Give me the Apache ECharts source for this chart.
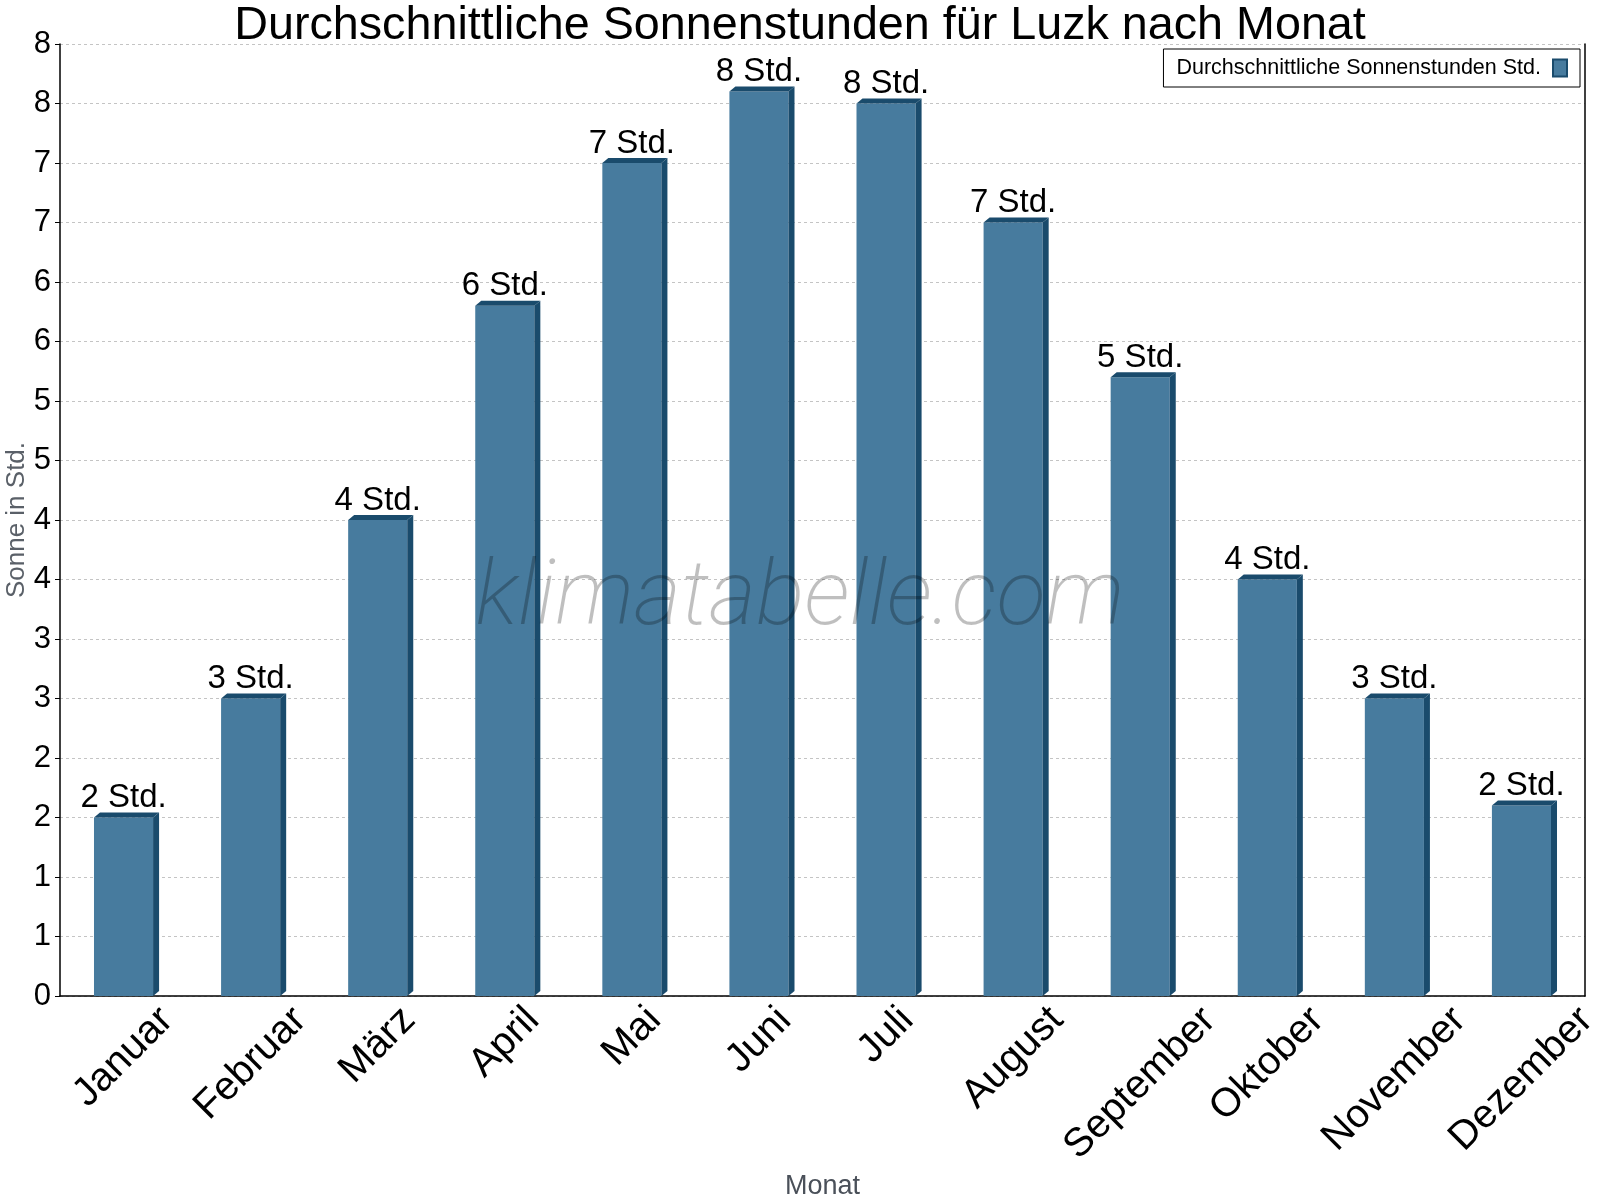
<!DOCTYPE html>
<html>
<head>
<meta charset="utf-8">
<title>Sonnenstunden Luzk</title>
<script src="https://cdn.jsdelivr.net/npm/echarts@6/dist/echarts.min.js"></script>
<style>
  html, body { margin: 0; padding: 0; background: #fff; }
  #main { width: 1600px; height: 1200px; }
</style>
</head>
<body>
<div id="main"></div>
<script>
var months = ['Januar', 'Februar', 'März', 'April', 'Mai', 'Juni', 'Juli', 'August', 'September', 'Oktober', 'November', 'Dezember'];
var sunHours = [1.5, 2.5, 4.0, 5.8, 7.0, 7.6, 7.5, 6.5, 5.2, 3.5, 2.5, 1.6];
var yTickLabels = ['0', '1', '1', '2', '2', '3', '3', '4', '4', '5', '5', '6', '6', '7', '7', '8', '8'];
var seriesName = 'Durchschnittliche Sonnenstunden Std.';

var fontName = 'Liberation Sans, Arial, sans-serif';
var frontColor = '#477b9e';
var darkColor = '#1a4b6c';
var xLabelSize = 40;

var barData = [];
sunHours.forEach(function (v, i) {
  barData.push([i, v]);
});

// gedrehte Monatsnamen: Box wird unter dem Tick zentriert (wie im Original)
var measureCtx = document.createElement('canvas').getContext('2d');
measureCtx.font = xLabelSize + 'px "Liberation Sans", Arial, sans-serif';
var monthRich = {};
months.forEach(function (m, i) {
  var p = Math.round((measureCtx.measureText(m).width + xLabelSize) / 2);
  monthRich['m' + i] = { padding: [p, p, 0, 0], fontSize: xLabelSize, fontFamily: fontName, color: '#000' };
});

// 3D-Balken: Vorderseite, rechte Seite und Deckel
function renderBar(params, api) {
  var val = api.value(1);
  var topPt = api.coord([api.value(0), val]);
  var basePt = api.coord([api.value(0), 0]);
  var bw = api.size([1, 0])[0] * 0.465;
  var dx = 6, dy = 5;
  var x0 = topPt[0] - bw / 2, x1 = topPt[0] + bw / 2;
  var yT = topPt[1], yB = basePt[1];
  return {
    type: 'group',
    children: [
      { type: 'rect', shape: { x: x0, y: yT, width: bw, height: yB - yT }, style: { fill: frontColor } },
      { type: 'polygon', shape: { points: [[x1, yT], [x1 + dx, yT - dy], [x1 + dx, yB - dy], [x1, yB]] }, style: { fill: darkColor } },
      { type: 'polygon', shape: { points: [[x0, yT], [x0 + dx, yT - dy], [x1 + dx, yT - dy], [x1, yT]] }, style: { fill: darkColor } },
      {
        type: 'text', x: topPt[0], y: yT - dy + 2,
        style: {
          text: Math.round(val) + ' Std.',
          fontSize: 33, fontFamily: fontName, fill: '#000',
          align: 'center', verticalAlign: 'bottom'
        }
      }
    ]
  };
}

var myChart = echarts.init(document.getElementById('main'));

var option = {
  backgroundColor: '#fff',
  animation: false,
  title: {
    text: 'Durchschnittliche Sonnenstunden für Luzk nach Monat',
    left: 'center',
    top: -2,
    textStyle: { fontFamily: fontName, fontSize: 46.7, fontWeight: 'normal', color: '#000' }
  },
  legend: {
    data: [seriesName],
    right: 20,
    top: 49,
    align: 'right',
    padding: [8, 12, 8, 13],
    borderColor: '#000',
    borderWidth: 1,
    backgroundColor: '#fff',
    itemWidth: 14,
    itemHeight: 17,
    icon: 'rect',
    itemStyle: { color: frontColor, borderColor: darkColor, borderWidth: 2 },
    textStyle: { fontFamily: fontName, fontSize: 21.5, color: '#000', padding: [0, 7, 0, 0] }
  },
  graphic: [{
    type: 'text',
    left: 'center',
    top: 556,
    z: 100,
    style: {
      text: 'klimatabelle.com',
      fontFamily: 'Roboto',
      fontStyle: 'italic',
      fontWeight: 200,
      fontSize: 91,
      fill: 'rgba(0,0,0,0.25)'
    }
  }],
  grid: { left: 60, right: 15, top: 44, bottom: 204, containLabel: false, outerBoundsMode: 'none' },
  xAxis: {
    type: 'category',
    data: months,
    name: 'Monat',
    nameLocation: 'middle',
    nameGap: 177,
    nameMoveOverlap: false,
    nameTextStyle: { fontFamily: fontName, fontSize: 27, color: '#4a5059' },
    axisLine: { lineStyle: { color: '#000', width: 1.5 } },
    axisTick: { length: 5, lineStyle: { color: '#000' } },
    axisLabel: {
      interval: 0,
      rotate: 45,
      align: 'center',
      verticalAlign: 'middle',
      margin: 4,
      formatter: function (value, index) {
        return '{m' + index + '|' + value + '}';
      },
      rich: monthRich
    },
    splitLine: { show: false }
  },
  yAxis: [{
    type: 'value',
    min: 0,
    max: 8,
    interval: 0.5,
    name: 'Sonne in Std.',
    nameLocation: 'middle',
    nameRotate: 90,
    nameGap: 30,
    nameMoveOverlap: false,
    nameTextStyle: { fontFamily: fontName, fontSize: 26, color: '#5a6068' },
    axisLine: { show: true, lineStyle: { color: '#000', width: 1.5 } },
    axisTick: { show: true, length: 5, lineStyle: { color: '#000' } },
    axisLabel: {
      margin: 9,
      fontFamily: fontName,
      fontSize: 31,
      color: '#000',
      formatter: function (value) {
        return yTickLabels[Math.round(value / 0.5)];
      }
    },
    splitLine: { show: true, lineStyle: { color: '#c4c4c4', type: [3, 3], width: 1 } }
  }, {
    type: 'value',
    min: 0,
    max: 8,
    interval: 0.5,
    position: 'right',
    axisLine: { show: true, lineStyle: { color: '#000', width: 1.5 } },
    axisTick: { show: false },
    axisLabel: { show: false },
    splitLine: { show: false }
  }],
  series: [{
    name: seriesName,
    type: 'custom',
    renderItem: renderBar,
    itemStyle: { color: frontColor },
    encode: { x: 0, y: 1 },
    data: barData
  }]
};

myChart.setOption(option);
</script>
</body>
</html>
